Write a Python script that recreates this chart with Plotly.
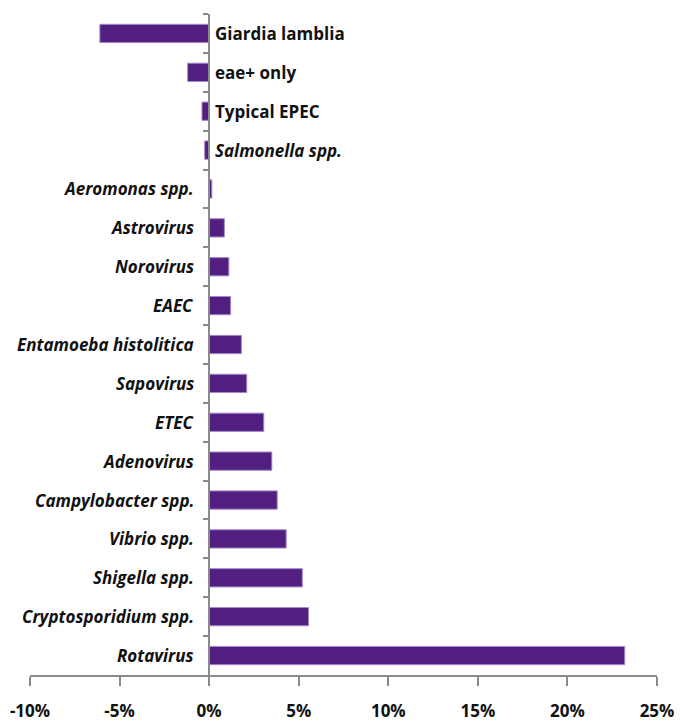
import plotly.graph_objects as go

categories = ["Giardia lamblia", "eae+ only", "Typical EPEC", "Salmonella spp.",
              "Aeromonas spp.", "Astrovirus", "Norovirus", "EAEC",
              "Entamoeba histolitica", "Sapovirus", "ETEC", "Adenovirus",
              "Campylobacter spp.", "Vibrio spp.", "Shigella spp.",
              "Cryptosporidium spp.", "Rotavirus"]
values = [-6.1, -1.2, -0.4, -0.25, 0.15, 0.85, 1.1, 1.2, 1.8, 2.1, 3.05, 3.5,
          3.8, 4.3, 5.2, 5.55, 23.2]
italic = [False, False, False, True] + [True] * 13
tick_vals = [-10, -5, 0, 5, 10, 15, 20, 25]
tick_text = ["-10%", "-5%", "0%", "5%", "10%", "15%", "20%", "25%"]

FONT = "Open Sans, sans-serif"
x_range = [-10, 25]

fig = go.Figure(go.Bar(
    x=values, y=categories, orientation="h",
    marker=dict(color="#521e80", line=dict(color="#a58bc7", width=1)),
    width=0.47,
))

for cat, v, it in zip(categories, values, italic):
    txt = f"<i>{cat}</i>" if it else cat
    if v < 0:
        fig.add_annotation(x=0, y=cat, text=f"<b>{txt}</b>", showarrow=False,
                           xanchor="left", xshift=4, font=dict(size=17, color="#111", family=FONT))
    else:
        fig.add_annotation(x=0, y=cat, text=f"<b>{txt}</b>", showarrow=False,
                           xanchor="right", xshift=-13, font=dict(size=17, color="#111", family=FONT))

fig.update_layout(
    width=682, height=723,
    margin=dict(l=30, r=25, t=14, b=48, autoexpand=False),
    plot_bgcolor="white", paper_bgcolor="white",
    showlegend=False,
    font=dict(family=FONT, color="#111"),
    xaxis=dict(range=x_range, tickvals=tick_vals, ticktext=tick_text, automargin=False,
               showgrid=False, zeroline=False, showline=True, linecolor="#8a8a8a",
               linewidth=1.5, ticks="outside", ticklen=9, tickcolor="#8a8a8a",
               tickwidth=1.5, ticklabelstandoff=11,
               tickfont=dict(size=17, family=FONT, color="#111", weight="bold")),
    yaxis=dict(type="category", categoryorder="array", categoryarray=categories,
               autorange="reversed", anchor="free", automargin=False,
               position=(0 - x_range[0]) / (x_range[1] - x_range[0]),
               showticklabels=False, showgrid=False, zeroline=False,
               showline=True, linecolor="#8a8a8a", linewidth=1.5,
               ticks="outside", tickson="boundaries", ticklen=5,
               tickcolor="#8a8a8a", tickwidth=1.5),
    bargap=0.5,
)

fig.write_html("out.html", config={"displayModeBar": False},
               post_script="document.body.style.margin='0';document.body.style.overflow='hidden';")
